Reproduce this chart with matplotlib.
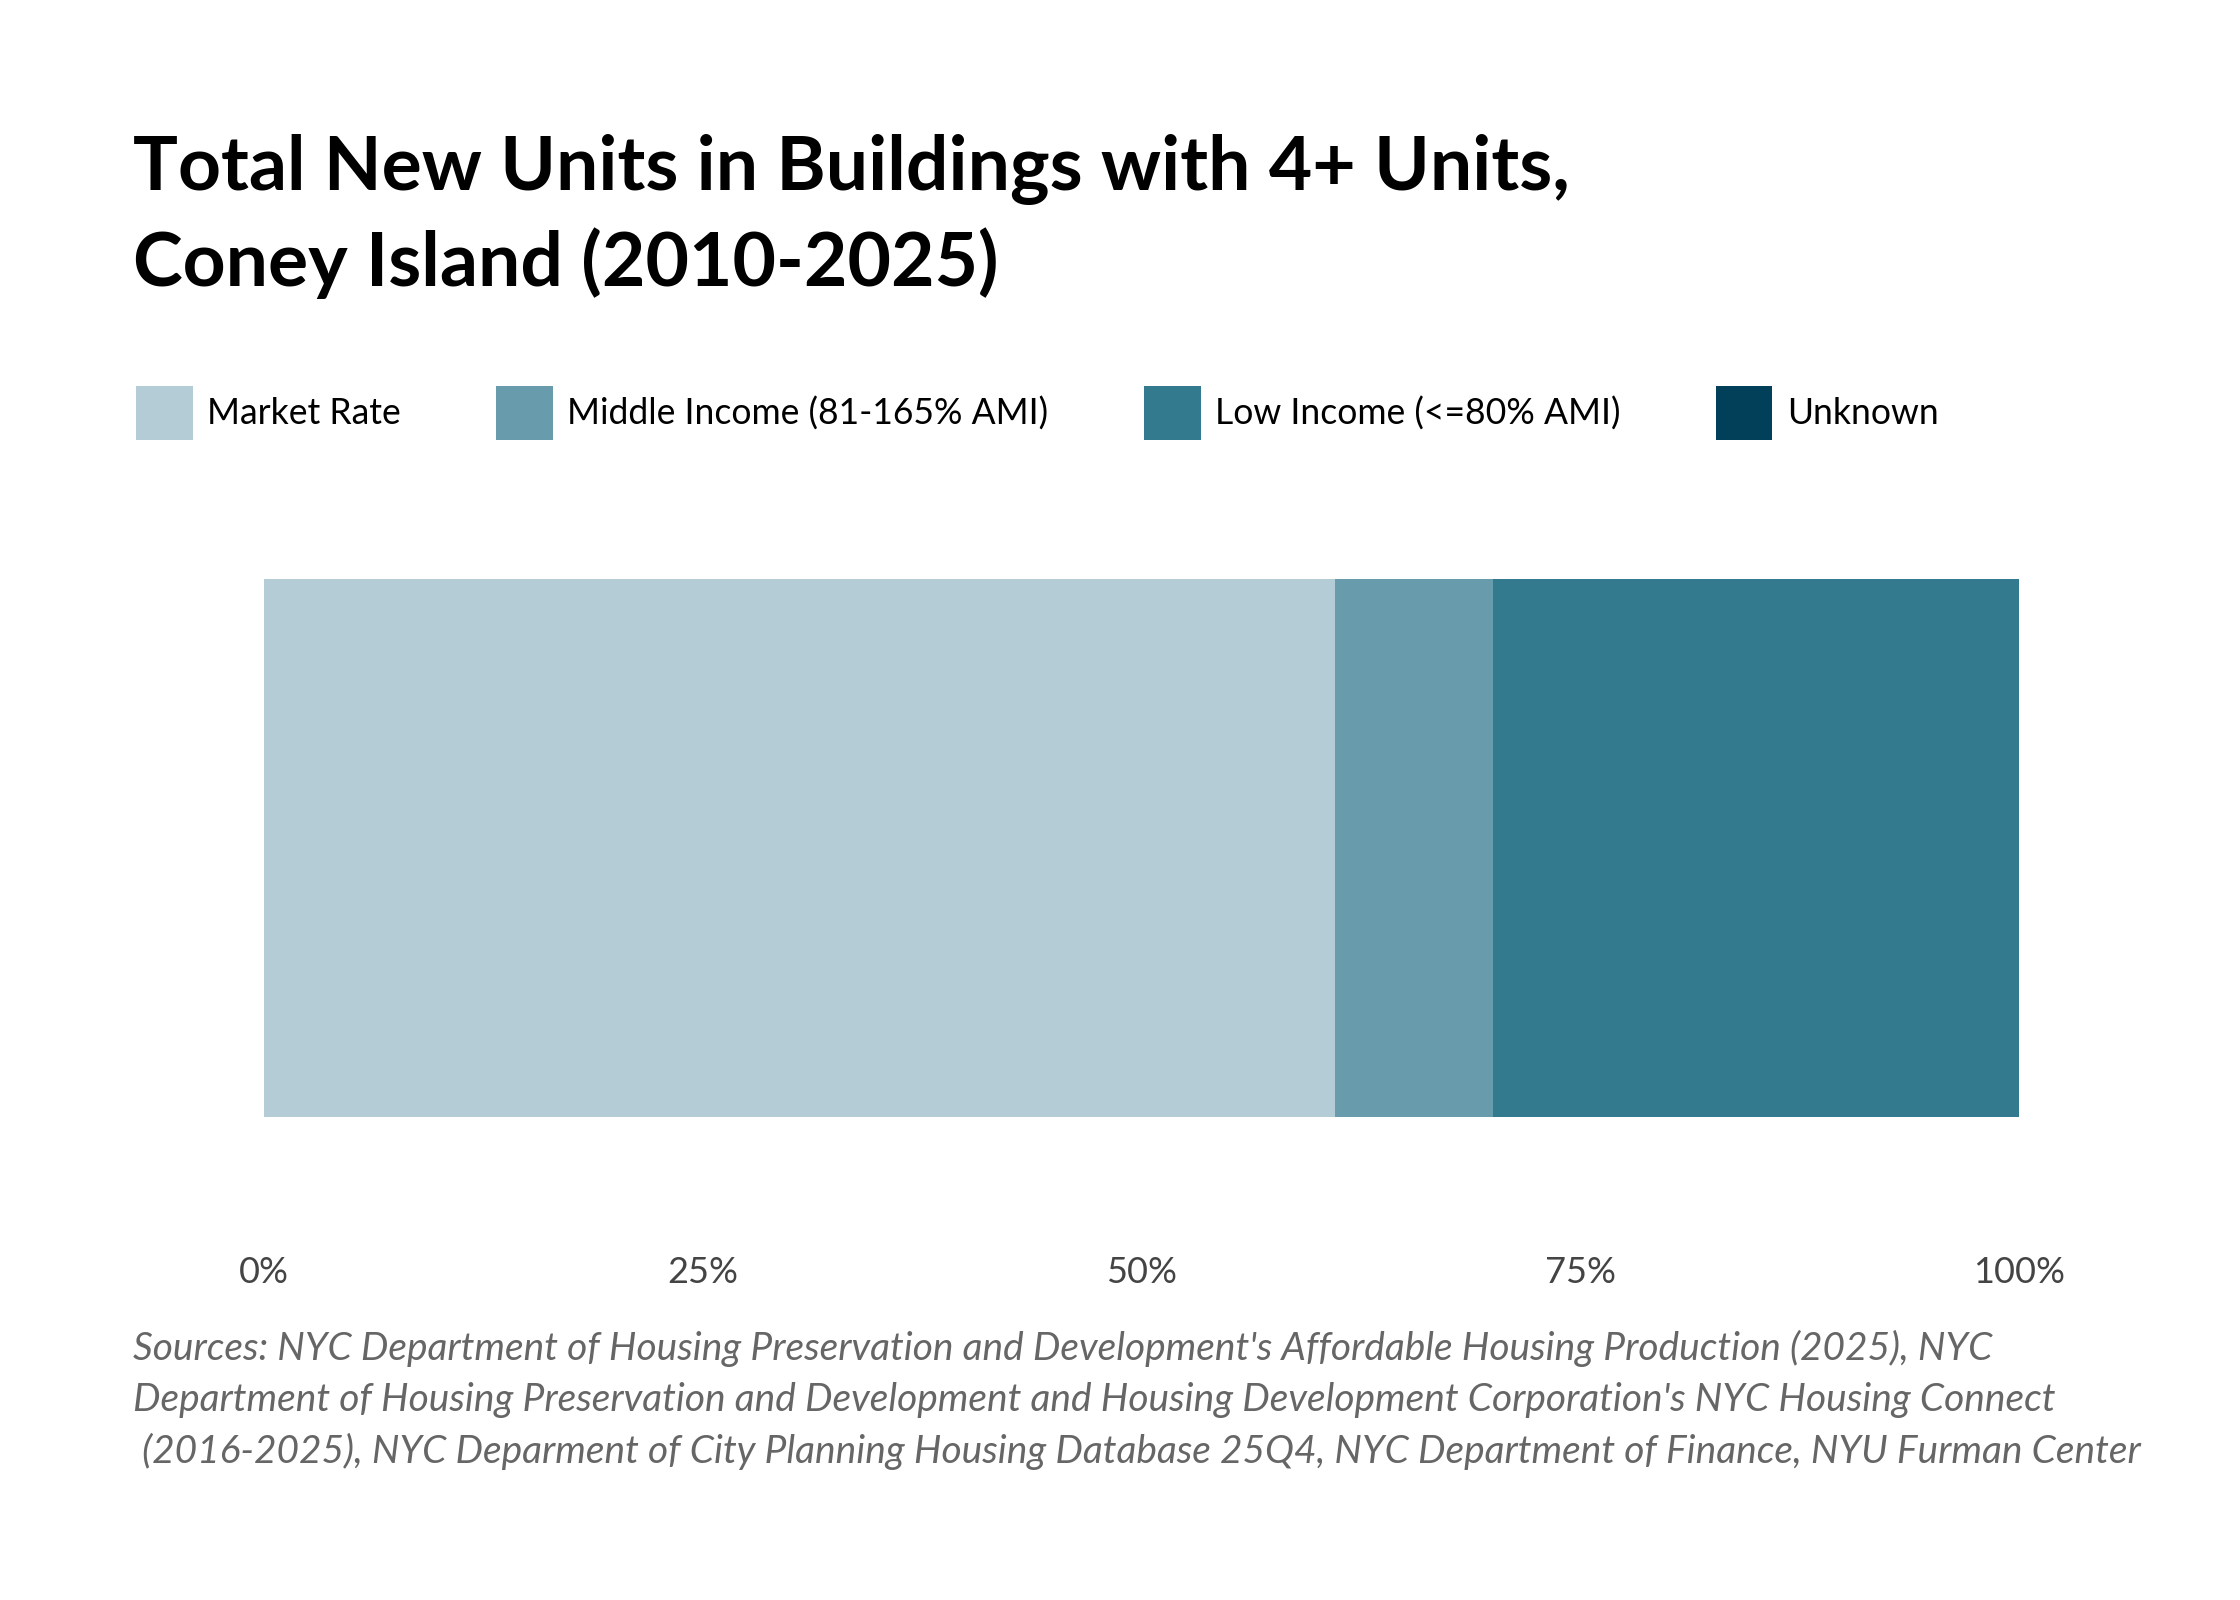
import matplotlib.pyplot as plt
import numpy as np

# Données (parts en %)
categories = ["Market Rate", "Middle Income (81-165% AMI)", "Low Income (<=80% AMI)", "Unknown"]
shares = [61.0, 9.0, 30.0, 0.0]
colors = ["#b4ccd5", "#689bab", "#347a8f", "#024059"]
tick_values = [0, 25, 50, 75, 100]
tick_labels = ["0%", "25%", "50%", "75%", "100%"]

title = "Total New Units in Buildings with 4+ Units,\nConey Island (2010-2025)"
source = ("Sources: NYC Department of Housing Preservation and Development's Affordable Housing Production (2025), NYC\n"
          "Department of Housing Preservation and Development and Housing Development Corporation's NYC Housing Connect\n"
          " (2016-2025), NYC Deparment of City Planning Housing Database 25Q4, NYC Department of Finance, NYU Furman Center")

plt.rcParams['font.family'] = ['Lato', 'DejaVu Sans']

fig = plt.figure(figsize=(11.2, 8), dpi=200)
ax = fig.add_axes([264/2240, 1 - 1117/1600, (2019-264)/2240, (1117-579)/1600])

# Barre empilée
left = 0
handles = []
for cat, val, col in zip(categories, shares, colors):
    h = ax.barh(0, val, left=left, height=1.0, color=col, label=cat)
    handles.append(h)
    left += val

ax.set_xlim(0, 100)
ax.set_ylim(-0.5, 0.5)
ax.set_yticks([])
ax.set_xticks(tick_values)
ax.set_xticklabels(tick_labels, color="#444444", fontsize=13)
ax.tick_params(axis='x', length=0, pad=50)
for s in ax.spines.values():
    s.set_visible(False)

# Titre
fig.text(133/2240, 1 - 134/1600, title, fontsize=27, fontweight='bold', color='black',
         va='top', ha='left', linespacing=1.38)

# Légende
fig.legend(handles=handles, labels=categories, ncol=4, loc='center left',
           bbox_to_anchor=(136/2240, 1 - 413/1600), frameon=False, fontsize=12.8,
           handlelength=1.6, handleheight=1.98, handletextpad=0.4, columnspacing=2.68,
           borderaxespad=0, borderpad=0)

# Sources
fig.text(133/2240, 1 - 1330/1600, source, fontsize=14, style='italic', color='#666666',
         va='top', ha='left', linespacing=1.5)

fig.savefig("out.png", dpi=200)
